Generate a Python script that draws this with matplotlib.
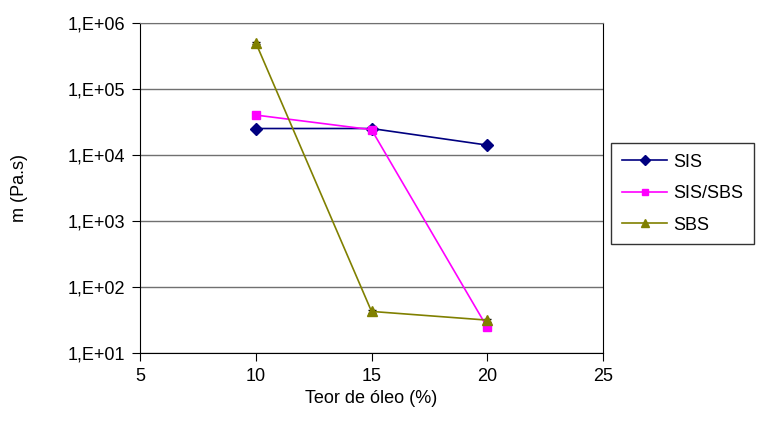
import matplotlib
matplotlib.use('Agg')
import matplotlib.pyplot as plt
from matplotlib.lines import Line2D
from matplotlib.ticker import FixedLocator, NullLocator

# dados
teor = [10, 15, 20]
sis = [2.5e4, 2.5e4, 1.4e4]
sis_sbs = [4.0e4, 2.4e4, 24]
sbs = [5.0e5, 42, 31]
sis_err = [0.5e3, 0.8e3, 0.3e3]
sis_sbs_err = [1.0e3, 0.8e3, 1.0]
sbs_err = [1.5e4, 2.0, 1.5]
y_ticks = [1e1, 1e2, 1e3, 1e4, 1e5, 1e6]
y_labels = ['1,E+01', '1,E+02', '1,E+03', '1,E+04', '1,E+05', '1,E+06']

plt.rcParams['font.family'] = ['Liberation Sans', 'DejaVu Sans']

fig = plt.figure(figsize=(7.59, 4.32), dpi=100)
ax = fig.add_axes([0.1845, 0.184, 0.610, 0.763])

series = [
    ('SIS', sis, sis_err, '#000080', 'D', 6),
    ('SIS/SBS', sis_sbs, sis_sbs_err, '#FF00FF', 's', 6),
    ('SBS', sbs, sbs_err, '#808000', '^', 7),
]
handles = []
for name, vals, err, col, mk, ms in series:
    ax.errorbar(teor, vals, yerr=err, fmt='none', ecolor='black',
                elinewidth=1, capsize=3, zorder=2)
    ax.plot(teor, vals, color=col, marker=mk, markersize=ms,
            linewidth=1.2, zorder=3)
    handles.append(Line2D([], [], color=col, marker=mk, markersize=ms - 1,
                          linewidth=1.2, label=name))

ax.set_yscale('log')
ax.set_xlim(5, 25)
ax.set_ylim(1e1, 1e6)
ax.set_xticks([5, 10, 15, 20, 25])
ax.yaxis.set_major_locator(FixedLocator(y_ticks))
ax.yaxis.set_minor_locator(NullLocator())
ax.set_yticklabels(y_labels)
ax.tick_params(labelsize=13, length=6, color='black', pad=5)
ax.grid(True, axis='y', color='#707070', linewidth=1)
for s in ax.spines.values():
    s.set_color('black')
ax.spines['top'].set_color('#707070')

ax.set_xlabel('Teor de óleo (%)', fontsize=13, labelpad=4)
ax.set_ylabel('m (Pa.s)', fontsize=13, labelpad=28)

leg = ax.legend(handles=handles, loc='center left', bbox_to_anchor=(1.018, 0.482),
                fontsize=13, frameon=True, fancybox=False, edgecolor='black',
                handlelength=2.5, handletextpad=0.3, borderpad=0.6,
                labelspacing=0.8, borderaxespad=0)
leg.get_frame().set_linewidth(1)

fig.savefig('out.png', dpi=100)
